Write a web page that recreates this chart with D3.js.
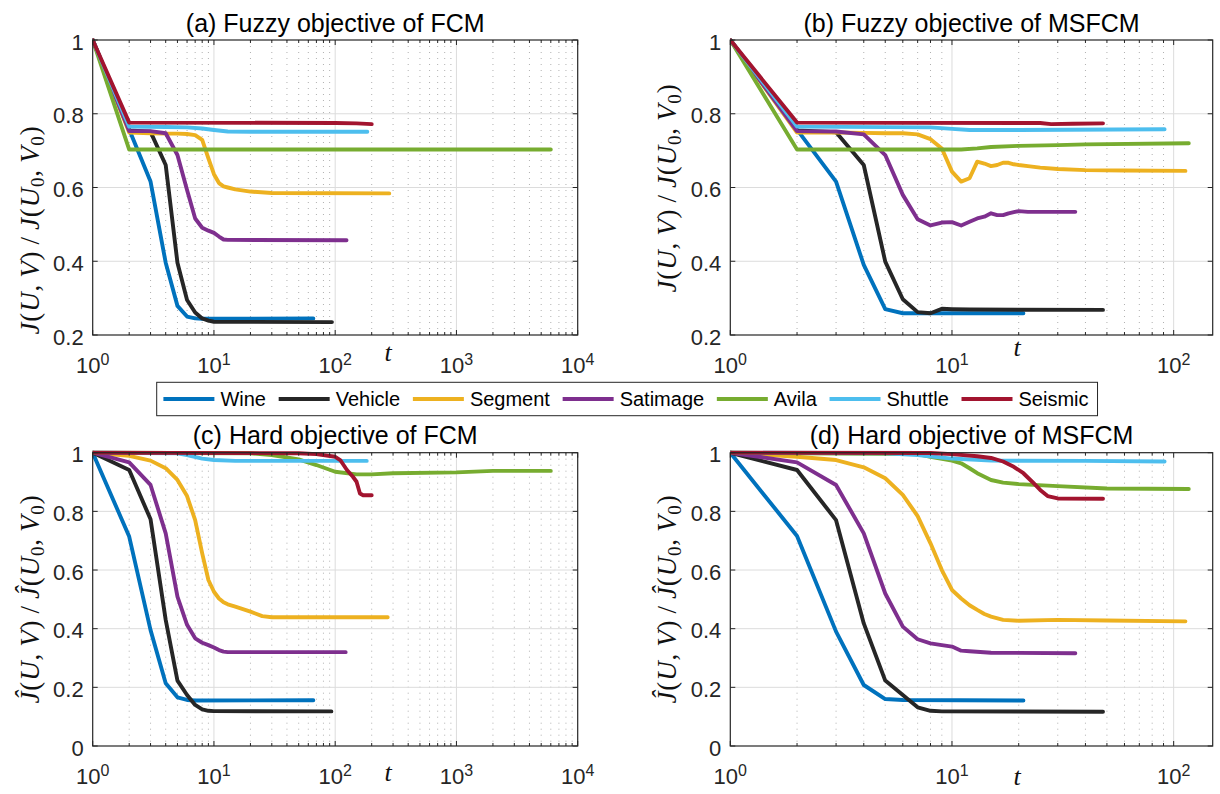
<!DOCTYPE html>
<html><head><meta charset="utf-8">
<script src="https://cdn.jsdelivr.net/npm/d3@7"></script>
<style>body{margin:0;background:#fff} svg{display:block}</style>
</head><body>
<svg id="chart" width="1220" height="794"></svg>
<script>
// ---------- data ----------
const seriesNames = ["Wine","Vehicle","Segment","Satimage","Avila","Shuttle","Seismic"];
const seriesColors = ["#0072BD","#262626","#EDB120","#7E2F8E","#77AC30","#4DBEEE","#A2142F"];

// (a) Fuzzy objective of FCM  [t, J/J0]
const aWine = [[1,1],[2,0.757],[3,0.616],[4,0.396],[5,0.279],[6,0.25],[7,0.245],[8,0.244],[66,0.245]];
const aVehicle = [[1,1],[2,0.755],[3,0.751],[4,0.661],[5,0.396],[6,0.295],[7,0.261],[8,0.245],[9,0.239],[10,0.236],[94,0.235]];
const aSegment = [[1,1],[2,0.749],[3,0.747],[4,0.746],[5,0.746],[6,0.745],[7,0.742],[8,0.729],[9,0.679],[10,0.636],[11,0.612],[12,0.603],[13,0.6],[15,0.595],[20,0.589],[30,0.585],[279,0.584]];
const aSatimage = [[1,1],[2,0.753],[3,0.753],[4,0.747],[5,0.688],[6,0.593],[7,0.516],[8,0.491],[9,0.483],[10,0.477],[11,0.467],[12,0.459],[13,0.458],[124,0.457]];
const aAvila = [[1,1],[2,0.703],[6000,0.703]];
const aShuttle = [[1,1],[2,0.765],[4,0.764],[6,0.763],[8,0.76],[10,0.756],[13,0.752],[20,0.751],[184,0.751]];
const aSeismic = [[1,1],[2,0.776],[100,0.775],[150,0.774],[200,0.772]];

// (b) Fuzzy objective of MSFCM
const bWine = [[1,1],[2,0.757],[3,0.616],[4,0.39],[5,0.27],[6,0.259],[7,0.259],[21,0.259]];
const bVehicle = [[1,1],[2,0.755],[3,0.75],[4,0.661],[5,0.399],[6,0.297],[7,0.262],[8,0.259],[9,0.271],[10,0.27],[12,0.269],[48,0.268]];
const bSegment = [[1,1],[2,0.749],[3,0.749],[4,0.748],[5,0.747],[6,0.747],[7,0.744],[8,0.731],[9,0.706],[10,0.643],[11,0.616],[12,0.625],[13,0.67],[14,0.665],[15,0.658],[16,0.661],[17,0.667],[18,0.667],[19,0.663],[20,0.661],[22,0.658],[25,0.654],[30,0.65],[40,0.647],[60,0.646],[113,0.645]];
const bSatimage = [[1,1],[2,0.753],[3,0.752],[4,0.744],[5,0.688],[6,0.58],[7,0.514],[8,0.497],[9,0.505],[10,0.506],[11,0.497],[12,0.507],[13,0.516],[14,0.521],[15,0.53],[16,0.525],[17,0.525],[18,0.53],[19,0.533],[20,0.536],[22,0.534],[36,0.534]];
const bAvila = [[1,1],[2,0.703],[11,0.703],[13,0.706],[15,0.71],[20,0.713],[30,0.715],[40,0.717],[117,0.72]];
const bShuttle = [[1,1],[2,0.765],[8,0.763],[10,0.759],[12,0.756],[20,0.756],[91,0.758]];
const bSeismic = [[1,1],[2,0.776],[25,0.775],[28,0.772],[35,0.773],[48,0.774]];

// (c) Hard objective of FCM
const cWine = [[1,1],[2,0.714],[3,0.395],[4,0.214],[5,0.166],[6,0.157],[7,0.155],[66,0.156]];
const cVehicle = [[1,1],[2,0.941],[3,0.773],[4,0.43],[5,0.223],[6,0.174],[7,0.14],[8,0.125],[9,0.12],[10,0.119],[93,0.118]];
const cSegment = [[1,1],[2,0.989],[3,0.973],[4,0.947],[5,0.907],[6,0.852],[7,0.77],[8,0.657],[9,0.566],[10,0.526],[11,0.503],[12,0.49],[13,0.483],[15,0.475],[20,0.458],[25,0.443],[30,0.439],[271,0.439]];
const cSatimage = [[1,1],[2,0.967],[3,0.89],[4,0.725],[5,0.509],[6,0.413],[7,0.367],[8,0.352],[9,0.344],[10,0.336],[11,0.327],[12,0.322],[13,0.32],[122,0.32]];
const cAvila = [[1,1],[20,0.998],[30,0.992],[50,0.977],[70,0.958],[100,0.935],[150,0.926],[200,0.926],[300,0.93],[1000,0.933],[2000,0.938],[6000,0.938]];
const cShuttle = [[1,1],[5,0.998],[6,0.992],[8,0.98],[10,0.975],[15,0.972],[182,0.972]];
const cSeismic = [[1,1],[50,0.998],[70,0.995],[100,0.986],[110,0.975],[125,0.941],[140,0.918],[150,0.901],[160,0.861],[170,0.855],[200,0.855]];

// (d) Hard objective of MSFCM
const dWine = [[1,1],[2,0.716],[3,0.39],[4,0.208],[5,0.16],[6,0.157],[21,0.155]];
const dVehicle = [[1,1],[2,0.941],[3,0.77],[4,0.418],[5,0.223],[6,0.174],[7,0.132],[8,0.12],[9,0.118],[48,0.117]];
const dSegment = [[1,1],[2,0.986],[3,0.975],[4,0.95],[5,0.913],[6,0.856],[7,0.784],[8,0.691],[9,0.6],[10,0.532],[11,0.503],[12,0.48],[13,0.464],[14,0.45],[15,0.441],[17,0.43],[20,0.427],[30,0.43],[50,0.428],[113,0.425]];
const dSatimage = [[1,1],[2,0.967],[3,0.89],[4,0.725],[5,0.52],[6,0.407],[7,0.364],[8,0.35],[9,0.344],[10,0.339],[11,0.325],[12,0.323],[15,0.318],[36,0.316]];
const dAvila = [[1,1],[7,0.995],[8,0.986],[10,0.973],[11,0.964],[12,0.947],[13,0.93],[15,0.907],[17,0.898],[20,0.893],[30,0.886],[50,0.878],[117,0.876]];
const dShuttle = [[1,1],[5,0.998],[7,0.992],[10,0.98],[15,0.973],[40,0.972],[91,0.97]];
const dSeismic = [[1,1],[8,0.999],[10,0.995],[13,0.988],[15,0.982],[17,0.97],[19,0.952],[21,0.93],[23,0.901],[25,0.873],[27,0.852],[30,0.844],[48,0.843]];

const titles = ["(a) Fuzzy objective of FCM","(b) Fuzzy objective of MSFCM","(c) Hard objective of FCM","(d) Hard objective of MSFCM"];
const yTicksFuzzy = [0.2,0.4,0.6,0.8,1];
const yTicksHard = [0,0.2,0.4,0.6,0.8,1];
const xTickExpWide = [0,1,2,3,4];
const xTickExpNarrow = [0,1,2];

// ---------- layout ----------
const panels = [
  {x0:92.7, x1:577.7, y0:40, y1:335, xmax:1e4, ymin:0.2, yt:yTicksFuzzy, xe:xTickExpWide, hat:false,
   series:[aWine,aVehicle,aSegment,aSatimage,aAvila,aShuttle,aSeismic], title:titles[0], ylabY:230, tX:388, tY:361},
  {x0:730.3, x1:1212.7, y0:40, y1:335, xmax:150, ymin:0.2, yt:yTicksFuzzy, xe:xTickExpNarrow, hat:false,
   series:[bWine,bVehicle,bSegment,bSatimage,bAvila,bShuttle,bSeismic], title:titles[1], ylabY:188, tX:1017, tY:356},
  {x0:92.7, x1:577.7, y0:452.7, y1:746, xmax:1e4, ymin:0, yt:yTicksHard, xe:xTickExpWide, hat:true,
   series:[cWine,cVehicle,cSegment,cSatimage,cAvila,cShuttle,cSeismic], title:titles[2], ylabY:599, tX:388, tY:781},
  {x0:730.3, x1:1212.7, y0:452.7, y1:746, xmax:150, ymin:0, yt:yTicksHard, xe:xTickExpNarrow, hat:true,
   series:[dWine,dVehicle,dSegment,dSatimage,dAvila,dShuttle,dSeismic], title:titles[3], ylabY:599, tX:1017, tY:785}
];

const svg = d3.select("#chart");
const axisCol = "#262626";
const sans = "'Liberation Sans', Arial, Helvetica, sans-serif";
const serif = "'Liberation Serif', 'Times New Roman', serif";

panels.forEach((p, pi) => {
  const xs = d3.scaleLog().domain([1, p.xmax]).range([p.x0, p.x1]);
  const ys = d3.scaleLinear().domain([p.ymin, 1]).range([p.y1, p.y0]);
  const g = svg.append("g");

  // minor x grid (dotted)
  const minor = [];
  for (let e = 0; e < 5; e++) for (let m = 2; m <= 9; m++) {
    const v = m * Math.pow(10, e);
    if (v < p.xmax) minor.push(v);
  }
  g.selectAll(".mg").data(minor).enter().append("line")
    .attr("x1", d => xs(d)).attr("x2", d => xs(d)).attr("y1", p.y0).attr("y2", p.y1)
    .attr("stroke", "#b0b0b0").attr("stroke-width", 1).attr("stroke-dasharray", "1,5");
  // major x grid
  const majors = p.xe.map(e => Math.pow(10, e)).filter(v => v > 1 && v < p.xmax);
  g.selectAll(".Mg").data(majors).enter().append("line")
    .attr("x1", d => xs(d)).attr("x2", d => xs(d)).attr("y1", p.y0).attr("y2", p.y1)
    .attr("stroke", "#dcdcdc").attr("stroke-width", 1);
  // y grid
  g.selectAll(".yg").data(p.yt.filter(v => v > p.ymin && v < 1)).enter().append("line")
    .attr("x1", p.x0).attr("x2", p.x1).attr("y1", d => ys(d)).attr("y2", d => ys(d))
    .attr("stroke", "#dcdcdc").attr("stroke-width", 1);

  // data lines
  const clipId = "clip" + pi;
  svg.append("clipPath").attr("id", clipId).append("rect")
    .attr("x", p.x0).attr("y", p.y0 - 4).attr("width", p.x1 - p.x0).attr("height", p.y1 - p.y0 + 4);
  const line = d3.line().x(d => xs(d[0])).y(d => ys(d[1]));
  const lg = g.append("g").attr("clip-path", `url(#${clipId})`);
  p.series.forEach((s, si) => {
    lg.append("path").attr("d", line(s)).attr("fill", "none")
      .attr("stroke", seriesColors[si]).attr("stroke-width", 3.9)
      .attr("stroke-linejoin", "round").attr("stroke-linecap", "round");
  });

  // box
  g.append("rect").attr("x", p.x0).attr("y", p.y0).attr("width", p.x1 - p.x0).attr("height", p.y1 - p.y0)
    .attr("fill", "none").attr("stroke", axisCol).attr("stroke-width", 1.2);

  // ticks
  const tk = g.append("g").attr("stroke", axisCol).attr("stroke-width", 1);
  p.xe.map(e => Math.pow(10, e)).forEach(v => {
    tk.append("line").attr("x1", xs(v)).attr("x2", xs(v)).attr("y1", p.y1).attr("y2", p.y1 - 5);
    tk.append("line").attr("x1", xs(v)).attr("x2", xs(v)).attr("y1", p.y0).attr("y2", p.y0 + 5);
  });
  minor.forEach(v => {
    tk.append("line").attr("x1", xs(v)).attr("x2", xs(v)).attr("y1", p.y1).attr("y2", p.y1 - 3);
    tk.append("line").attr("x1", xs(v)).attr("x2", xs(v)).attr("y1", p.y0).attr("y2", p.y0 + 3);
  });
  p.yt.forEach(v => {
    tk.append("line").attr("x1", p.x0).attr("x2", p.x0 + 5).attr("y1", ys(v)).attr("y2", ys(v));
    tk.append("line").attr("x1", p.x1).attr("x2", p.x1 - 5).attr("y1", ys(v)).attr("y2", ys(v));
  });

  // y tick labels
  g.selectAll(".ytl").data(p.yt).enter().append("text")
    .attr("x", p.x0 - 9).attr("y", d => ys(d) + 9.5)
    .attr("text-anchor", "end").attr("font-family", sans).attr("font-size", 22).attr("fill", axisCol)
    .text(d => d === 1 ? "1" : (d === 0 ? "0" : d3.format(".1f")(d)));

  // x tick labels 10^k
  p.xe.forEach(e => {
    const t = g.append("text").attr("x", xs(Math.pow(10, e))).attr("y", p.y1 + 38)
      .attr("text-anchor", "middle").attr("font-family", sans).attr("font-size", 22).attr("fill", axisCol);
    t.append("tspan").text("10");
    t.append("tspan").attr("font-size", 16).attr("dy", -8).text(String(e));
  });

  // title
  g.append("text").attr("x", (p.x0 + p.x1) / 2).attr("y", p.y0 - 8.5)
    .attr("text-anchor", "middle").attr("font-family", sans).attr("font-size", 25).attr("fill", "#000")
    .text(p.title);

  // x label t
  g.append("text").attr("x", p.tX).attr("y", p.tY).attr("text-anchor", "middle")
    .attr("font-family", serif).attr("font-style", "italic").attr("font-size", 26).attr("fill", "#111").text("t");

  // y label
  const cx = p.x0 - 63, cy = p.ylabY;
  const yl = g.append("text").attr("transform", `translate(${cx},${cy}) rotate(-90)`)
    .attr("text-anchor", "middle").attr("dy", "0.33em")
    .attr("font-family", serif).attr("font-size", 27).attr("fill", "#111").attr("letter-spacing", 0.8);
  const J = p.hat ? "\u0134" : "J";
  const parts = [
    [J, "i"], ["(", "n"], ["U", "i"], [",\u2009", "n"], ["V", "i"], [")", "n"], ["\u2009/\u2009", "n"],
    [J, "i"], ["(", "n"], ["U", "i"], ["0", "s"], [",\u2009", "n"], ["V", "i"], ["0", "s"], [")", "n"]
  ];
  let shifted = false;
  parts.forEach(([txt, kind]) => {
    const ts = yl.append("tspan").text(txt);
    if (kind === "i") ts.attr("font-style", "italic");
    if (kind === "s") { ts.attr("font-size", 19).attr("dy", shifted ? 0 : 5); shifted = true; }
    else if (shifted) { ts.attr("dy", -5); shifted = false; }
  });
});

// ---------- legend ----------
const legend = svg.append("g");
const lgBox = legend.append("rect").attr("y", 382.3).attr("height", 33.4)
  .attr("fill", "#fff").attr("stroke", axisCol).attr("stroke-width", 1);
let lx = 163.4;
const ly = 399;
seriesNames.forEach((name, i) => {
  legend.append("line").attr("x1", lx).attr("x2", lx + 51).attr("y1", ly).attr("y2", ly)
    .attr("stroke", seriesColors[i]).attr("stroke-width", 3.9);
  const t = legend.append("text").attr("x", lx + 57).attr("y", ly + 7)
    .attr("font-family", sans).attr("font-size", 20).attr("fill", "#000").text(name);
  const w = t.node().getComputedTextLength();
  lx = lx + 57 + w + 12.7;
});
lgBox.attr("x", 156.7).attr("width", lx - 12.7 + 9 - 156.7);
</script>
</body></html>
